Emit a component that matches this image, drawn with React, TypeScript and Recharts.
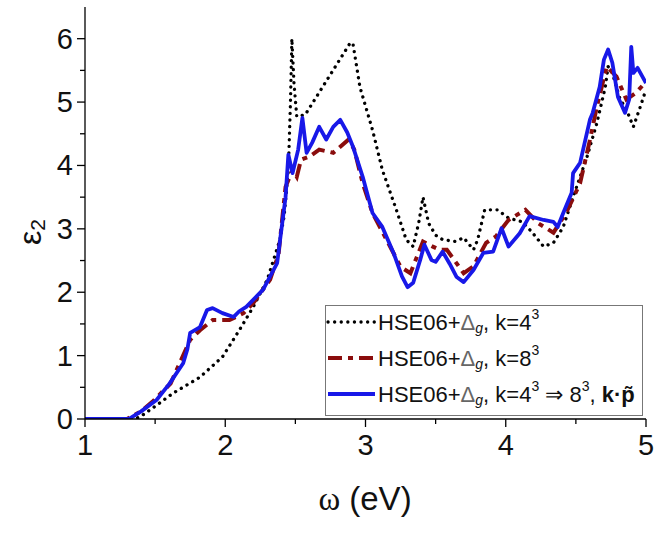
import React from 'react';
import { LineChart, Line, XAxis, YAxis, Legend } from 'recharts';

// ---- data (omega in eV, eps2) ----
const k4Omega = [1, 1.35, 1.39, 1.5, 1.63, 1.82, 1.98, 2.1, 2.2, 2.3, 2.39, 2.42, 2.45, 2.465, 2.475, 2.49, 2.51, 2.57, 2.89, 2.91, 2.96, 3.05, 3.12, 3.22, 3.29, 3.34, 3.38, 3.41, 3.45, 3.5, 3.55, 3.64, 3.7, 3.77, 3.8, 3.85, 3.94, 4.02, 4.12, 4.19, 4.27, 4.34, 4.41, 4.48, 4.58, 4.65, 4.71, 4.73, 4.76, 4.81, 4.87, 4.91, 4.96, 5.0];
const k4Eps = [0, 0, 0.03, 0.2, 0.41, 0.66, 0.98, 1.4, 1.77, 2.2, 2.83, 3.2, 3.93, 5.0, 6.0, 5.3, 4.77, 4.8, 5.93, 5.93, 5.24, 4.56, 3.93, 3.3, 2.83, 2.72, 3.1, 3.5, 3.09, 2.9, 2.83, 2.8, 2.86, 2.67, 2.83, 3.3, 3.3, 3.17, 3.11, 2.94, 2.72, 2.78, 3.03, 3.5, 4.14, 4.67, 5.24, 5.56, 5.46, 5.08, 4.83, 4.61, 4.93, 5.2];

const k8Omega = [1, 1.3, 1.4, 1.48, 1.61, 1.75, 1.82, 1.91, 2.03, 2.13, 2.2, 2.32, 2.38, 2.43, 2.48, 2.51, 2.54, 2.6, 2.67, 2.77, 2.88, 2.92, 2.98, 3.05, 3.15, 3.25, 3.32, 3.41, 3.48, 3.53, 3.58, 3.7, 3.77, 3.86, 3.93, 4.02, 4.14, 4.23, 4.34, 4.43, 4.53, 4.6, 4.65, 4.72, 4.79, 4.86, 4.93, 5.0];
const k8Eps = [0, 0, 0.12, 0.27, 0.56, 1.25, 1.4, 1.56, 1.56, 1.67, 1.83, 2.2, 2.6, 3.66, 3.93, 3.82, 4.09, 4.14, 4.25, 4.2, 4.41, 4.25, 3.72, 3.25, 2.83, 2.4, 2.3, 2.8, 2.72, 2.67, 2.67, 2.3, 2.41, 2.78, 2.88, 3.14, 3.3, 3.09, 2.94, 3.25, 3.72, 4.4, 4.93, 5.56, 5.4, 5.04, 5.15, 5.32];

const kpOmega = [1, 1.3, 1.32, 1.4, 1.51, 1.6, 1.7, 1.73, 1.75, 1.82, 1.87, 1.91, 1.98, 2.06, 2.1, 2.15, 2.27, 2.37, 2.4, 2.43, 2.45, 2.48, 2.52, 2.55, 2.58, 2.62, 2.67, 2.72, 2.77, 2.82, 2.87, 2.91, 2.98, 3.05, 3.12, 3.2, 3.26, 3.3, 3.34, 3.39, 3.42, 3.47, 3.5, 3.55, 3.6, 3.65, 3.7, 3.77, 3.84, 3.91, 3.97, 4.02, 4.1, 4.17, 4.27, 4.34, 4.37, 4.41, 4.47, 4.48, 4.53, 4.6, 4.62, 4.67, 4.7, 4.73, 4.76, 4.8, 4.85, 4.88, 4.895, 4.91, 4.94, 5.0];
const kpEps = [0, 0, 0.01, 0.12, 0.3, 0.55, 0.88, 1.1, 1.36, 1.45, 1.72, 1.75, 1.67, 1.61, 1.7, 1.77, 2.04, 2.46, 2.98, 3.5, 4.17, 3.88, 4.25, 4.75, 4.2, 4.36, 4.61, 4.41, 4.61, 4.72, 4.52, 4.3, 3.82, 3.25, 3.03, 2.62, 2.25, 2.08, 2.15, 2.51, 2.75, 2.51, 2.48, 2.64, 2.45, 2.24, 2.16, 2.35, 2.62, 2.64, 3.01, 2.72, 2.93, 3.2, 3.14, 3.11, 3.03, 3.25, 3.57, 3.88, 4.04, 4.72, 4.83, 5.24, 5.67, 5.83, 5.62, 5.08, 4.83, 5.04, 5.87, 5.46, 5.54, 5.3];

const xTicks = [1, 1.5, 2, 2.5, 3, 3.5, 4, 4.5, 5];
const yTicks = [0, 0.5, 1, 1.5, 2, 2.5, 3, 3.5, 4, 4.5, 5, 5.5, 6];

const toPoints = (xs: number[], ys: number[]) => xs.map((x, i) => ({ x, y: ys[i] }));
const k4Data = toPoints(k4Omega, k4Eps);
const k8Data = toPoints(k8Omega, k8Eps);
const kpData = toPoints(kpOmega, kpEps);

const BLUE = '#1818e8';
const RED = '#8a0d0d';
const SANS = '"Liberation Sans", Arial, sans-serif';

// geometry of the plot frame
const AX_LEFT = 85;
const AX_BOTTOM = 419;

const YTick = (props: any) => {
  const { y, payload } = props;
  const v = payload.value;
  const major = Number.isInteger(v);
  return (
    <g>
      <line x1={AX_LEFT - (major ? 8 : 5)} x2={AX_LEFT} y1={y} y2={y} stroke="#000" strokeWidth={1.3} />
      {major && (
        <text x={73} y={y} textAnchor="end" dominantBaseline="central" fontSize={29} fill="#111" fontFamily={SANS}>
          {v}
        </text>
      )}
    </g>
  );
};

const XTick = (props: any) => {
  const { x, payload } = props;
  const v = payload.value;
  const major = Number.isInteger(v);
  return (
    <g>
      <line x1={x} x2={x} y1={AX_BOTTOM} y2={AX_BOTTOM + (major ? 8 : 5)} stroke="#000" strokeWidth={1.3} />
      {major && (
        <text x={x} y={455} textAnchor="middle" fontSize={29} fill="#111" fontFamily={SANS}>
          {v}
        </text>
      )}
    </g>
  );
};

const XTitle = () => (
  <text x={365} y={510} textAnchor="middle" fontSize={33} fill="#111" fontFamily={SANS}>
    <tspan fontFamily='"Liberation Serif", serif'>ω</tspan> (eV)
  </text>
);

const YTitle = () => (
  <text x={30} y={232} transform="rotate(-90, 30, 232)" textAnchor="middle" dominantBaseline="central" fontSize={32} fill="#111" fontFamily={SANS}>
    ε<tspan fontSize={21} dy={7}>2</tspan>
  </text>
);

const legendItems = [
  { key: 'k4', color: '#000', width: 3.3, dash: '0.1 6.5', cap: 'round' as const },
  { key: 'k8', color: RED, width: 4, dash: '14 6 5 6', cap: 'butt' as const },
  { key: 'kp', color: BLUE, width: 4, dash: undefined, cap: 'butt' as const },
];

const FS = 22;
const SUB = 14;

const LegendLabel = ({ idx, y }: { idx: number; y: number }) => {
  const base = (
    <>
      HSE06+<tspan fill="#666">Δ</tspan>
      <tspan fontSize={SUB} fontStyle="italic" dy={6}>g</tspan>
      <tspan dy={-6}>, k=</tspan>
    </>
  );
  if (idx === 0) {
    return (
      <text x={53} y={y} fontSize={FS} fill="#111" fontFamily={SANS} dominantBaseline="central">
        {base}4<tspan fontSize={SUB} dy={-8}>3</tspan>
      </text>
    );
  }
  if (idx === 1) {
    return (
      <text x={53} y={y} fontSize={FS} fill="#111" fontFamily={SANS} dominantBaseline="central">
        {base}8<tspan fontSize={SUB} dy={-8}>3</tspan>
      </text>
    );
  }
  return (
    <text x={53} y={y} fontSize={FS} fill="#111" fontFamily={SANS} dominantBaseline="central">
      {base}4<tspan fontSize={SUB} dy={-8}>3</tspan>
      <tspan dy={8}> ⇒ 8</tspan>
      <tspan fontSize={SUB} dy={-8}>3</tspan>
      <tspan dy={8}>, </tspan>
      <tspan fontWeight="bold">k·p̃</tspan>
    </text>
  );
};

const renderLegend = () => (
  <svg width={318} height={111} style={{ display: 'block' }}>
    <rect x={0.5} y={0.5} width={317} height={110} fill="#fff" stroke="#777" strokeWidth={1} />
    {legendItems.map((it, i) => {
      const y = 17 + i * 36;
      return (
        <g key={it.key}>
          <line x1={3} x2={50} y1={y} y2={y} stroke={it.color} strokeWidth={it.width} strokeDasharray={it.dash} strokeLinecap={it.cap} />
          <LegendLabel idx={i} y={y} />
        </g>
      );
    })}
  </svg>
);

export default function App() {
  return (
    <div style={{ position: 'absolute', left: 0, top: 0, fontFamily: SANS }}>
      <LineChart width={657} height={534} margin={{ top: 7, right: 11, bottom: 0, left: 0 }}>
        <XAxis
          dataKey="x"
          type="number"
          domain={[1, 5]}
          ticks={xTicks}
          interval={0}
          tick={XTick}
          tickLine={false}
          axisLine={{ stroke: '#000', strokeWidth: 1.3 }}
          height={115}
          allowDataOverflow
          label={{ content: XTitle }}
        />
        <XAxis xAxisId="top" orientation="top" type="number" domain={[1, 5]} tick={false} tickLine={false} height={0} axisLine={{ stroke: '#333', strokeWidth: 1.3 }} />
        <YAxis
          type="number"
          domain={[0, 6.5]}
          ticks={yTicks}
          interval={0}
          tick={YTick}
          tickLine={false}
          axisLine={{ stroke: '#000', strokeWidth: 1.3 }}
          width={85}
          allowDataOverflow
          label={{ content: YTitle }}
        />
        <YAxis yAxisId="right" orientation="right" type="number" domain={[0, 6.5]} tick={false} tickLine={false} width={0} axisLine={{ stroke: '#333', strokeWidth: 1.3 }} />
        <Line data={k4Data} dataKey="y" type="linear" stroke="#000" strokeWidth={3.3} strokeDasharray="0.1 6.5" strokeLinecap="round" dot={false} isAnimationActive={false} />
        <Line data={k8Data} dataKey="y" type="linear" stroke={RED} strokeWidth={4} strokeDasharray="14 6 5 6" dot={false} isAnimationActive={false} />
        <Line data={kpData} dataKey="y" type="linear" stroke={BLUE} strokeWidth={3.8} strokeLinejoin="round" dot={false} isAnimationActive={false} />
        <Legend
          layout="vertical"
          align="center"
          verticalAlign="middle"
          content={renderLegend}
          wrapperStyle={{ position: 'absolute', left: 325, top: 305, width: 318, height: 111 }}
        />
      </LineChart>
    </div>
  );
}
